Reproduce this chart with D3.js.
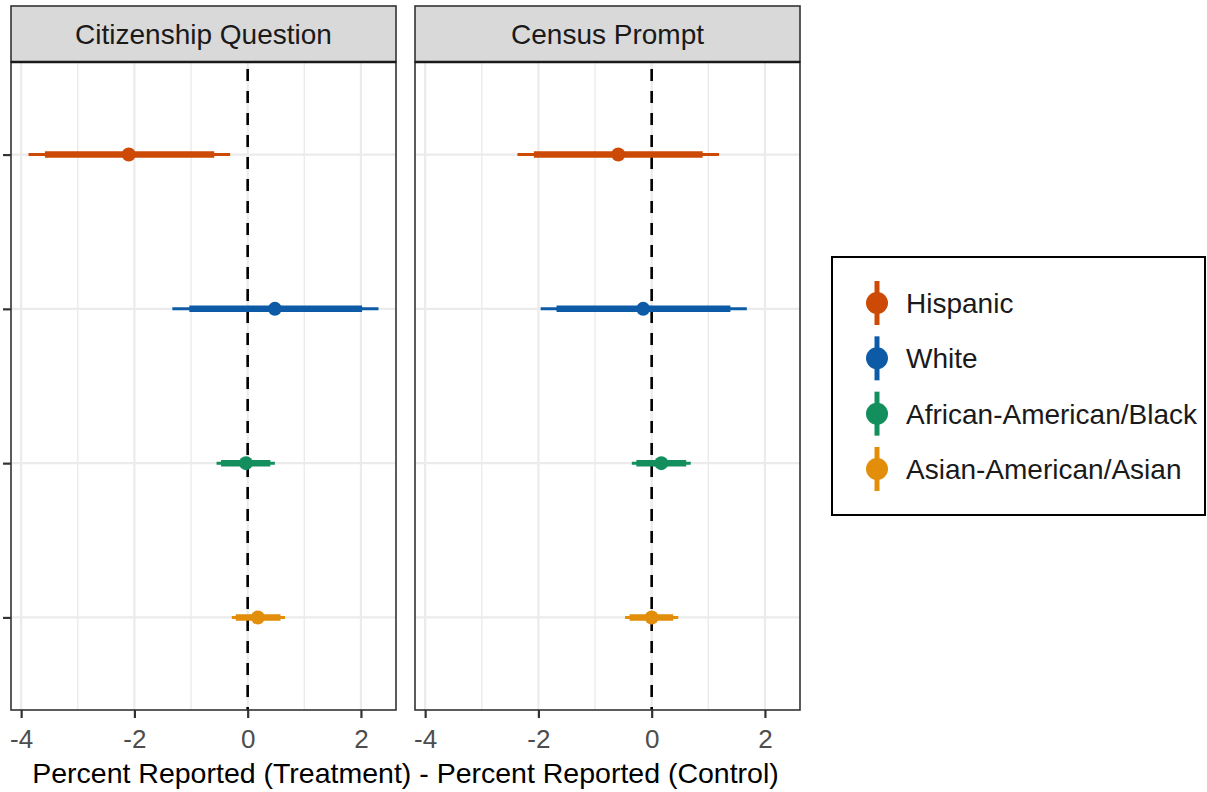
<!DOCTYPE html>
<html>
<head>
<meta charset="utf-8">
<script src="https://cdn.jsdelivr.net/npm/d3@7"></script>
<style>
  body { margin: 0; background: #fff; }
  text { font-family: "Liberation Sans", Arial, sans-serif; }
</style>
</head>
<body>
<svg id="chart" width="1207" height="792"></svg>
<script>
// categories
const groups = ["Hispanic", "White", "African-American/Black", "Asian-American/Asian"]
const panels = ["Citizenship Question", "Census Prompt"]
const colors = ["#CC4A06", "#0D5BA6", "#138F5E", "#E38E0A"]
const xTicks = [-4, -2, 0, 2]
const xGrid = [-4, -3, -2, -1, 0, 1, 2]

// Citizenship Question
const citEst    = [-2.10,  0.48, -0.03,  0.18]
const citLow95  = [-3.87, -1.33, -0.55, -0.28]
const citHigh95 = [-0.31,  2.31,  0.48,  0.66]
const citLow90  = [-3.58, -1.03, -0.47, -0.21]
const citHigh90 = [-0.59,  2.02,  0.40,  0.58]

// Census Prompt
const cenEst    = [-0.59, -0.15,  0.17,  0.00]
const cenLow95  = [-2.37, -1.96, -0.35, -0.47]
const cenHigh95 = [ 1.19,  1.68,  0.69,  0.47]
const cenLow90  = [-2.08, -1.68, -0.27, -0.39]
const cenHigh90 = [ 0.90,  1.39,  0.61,  0.38]

const panelData = [
  { name: panels[0], est: citEst, lo95: citLow95, hi95: citHigh95, lo90: citLow90, hi90: citHigh90 },
  { name: panels[1], est: cenEst, lo95: cenLow95, hi95: cenHigh95, lo90: cenLow90, hi90: cenHigh90 }
]

const svg = d3.select("#chart")

// layout
const panelX = [11, 415]
const panelW = 385
const stripTop = 6, panelTop = 62, panelBottom = 710

// shared x domain with 5% expansion like ggplot
const allVals = [...citLow95, ...citHigh95, ...cenLow95, ...cenHigh95]
const lo = d3.min(allVals), hi = d3.max(allVals)
const pad = (hi - lo) * 0.05

const y = d3.scalePoint()
    .domain(groups)
    .range([panelTop, panelBottom])
    .padding(0.6)

panelData.forEach((p, pi) => {
  const x = d3.scaleLinear()
      .domain([lo - pad, hi + pad])
      .range([panelX[pi], panelX[pi] + panelW])

  const g = svg.append("g")

  // background gridlines
  g.selectAll(".vgrid")
      .data(xGrid)
    .enter().append("line")
      .attr("x1", d => x(d)).attr("x2", d => x(d))
      .attr("y1", panelTop).attr("y2", panelBottom)
      .attr("stroke", "#EBEBEB")
      .attr("stroke-width", d => xTicks.includes(d) ? 2.2 : 1.4)
  g.selectAll(".hgrid")
      .data(groups)
    .enter().append("line")
      .attr("x1", panelX[pi]).attr("x2", panelX[pi] + panelW)
      .attr("y1", d => y(d)).attr("y2", d => y(d))
      .attr("stroke", "#EBEBEB")
      .attr("stroke-width", 2.2)

  // zero reference line
  g.append("line")
      .attr("x1", x(0)).attr("x2", x(0))
      .attr("y1", panelTop).attr("y2", panelBottom)
      .attr("stroke", "#000")
      .attr("stroke-width", 2.6)
      .attr("stroke-dasharray", "12,10")
      .attr("stroke-dashoffset", -7)

  // outer intervals
  g.selectAll(".outer")
      .data(groups)
    .enter().append("line")
      .attr("x1", (d, i) => x(p.lo95[i])).attr("x2", (d, i) => x(p.hi95[i]))
      .attr("y1", d => y(d)).attr("y2", d => y(d))
      .attr("stroke", (d, i) => colors[i])
      .attr("stroke-width", 3)
  // inner intervals
  g.selectAll(".inner")
      .data(groups)
    .enter().append("line")
      .attr("x1", (d, i) => x(p.lo90[i])).attr("x2", (d, i) => x(p.hi90[i]))
      .attr("y1", d => y(d)).attr("y2", d => y(d))
      .attr("stroke", (d, i) => colors[i])
      .attr("stroke-width", 6.5)
  // point estimates
  g.selectAll(".dot")
      .data(groups)
    .enter().append("circle")
      .attr("cx", (d, i) => x(p.est[i]))
      .attr("cy", d => y(d))
      .attr("r", 7)
      .attr("fill", (d, i) => colors[i])

  // panel border
  g.append("rect")
      .attr("x", panelX[pi]).attr("y", panelTop)
      .attr("width", panelW).attr("height", panelBottom - panelTop)
      .attr("fill", "none")
      .attr("stroke", "#333")
      .attr("stroke-width", 1.6)

  // strip
  g.append("rect")
      .attr("x", panelX[pi]).attr("y", stripTop)
      .attr("width", panelW).attr("height", panelTop - stripTop)
      .attr("fill", "#D9D9D9")
      .attr("stroke", "#333")
      .attr("stroke-width", 1.6)
  g.append("line")
      .attr("x1", panelX[pi]).attr("x2", panelX[pi] + panelW)
      .attr("y1", panelTop).attr("y2", panelTop)
      .attr("stroke", "#1A1A1A")
      .attr("stroke-width", 2.4)
  g.append("text")
      .attr("x", panelX[pi] + panelW / 2)
      .attr("y", 44)
      .attr("text-anchor", "middle")
      .attr("font-size", 28)
      .attr("fill", "#1A1A1A")
      .text(p.name)

  // x axis
  const ax = g.append("g")
      .attr("transform", `translate(0,${panelBottom})`)
      .call(d3.axisBottom(x).tickValues(xTicks).tickSize(8).tickPadding(6).tickFormat(d3.format("d")))
  ax.select(".domain").remove()
  ax.selectAll(".tick line").attr("stroke", "#333").attr("stroke-width", 2.2)
  ax.selectAll(".tick text")
      .attr("dy", null)
      .attr("y", 38)
      .attr("font-size", 26)
      .attr("fill", "#4D4D4D")
      .style("font-family", "'Liberation Sans', Arial, sans-serif")
      .text(d => d < 0 ? "-" + Math.abs(d) : d)
})

// y axis ticks (no labels)
const ay = svg.append("g")
    .attr("transform", `translate(${panelX[0]},0)`)
    .call(d3.axisLeft(y).tickSize(8).tickFormat(""))
ay.select(".domain").remove()
ay.selectAll(".tick line").attr("stroke", "#333").attr("stroke-width", 2.2)

// axis title
svg.append("text")
    .attr("x", (panelX[0] + panelX[1] + panelW) / 2)
    .attr("y", 783)
    .attr("text-anchor", "middle")
    .attr("font-size", 28.5)
    .attr("fill", "#000")
    .text("Percent Reported (Treatment) - Percent Reported (Control)")

// legend
const legend = svg.append("g")
legend.append("rect")
    .attr("x", 832).attr("y", 257)
    .attr("width", 373).attr("height", 258)
    .attr("fill", "#fff")
    .attr("stroke", "#000")
    .attr("stroke-width", 2)

const ly = d3.scalePoint().domain(groups).range([303, 469])
const item = legend.selectAll(".item")
    .data(groups)
  .enter().append("g")
    .attr("transform", d => `translate(877,${ly(d)})`)
item.append("line")
    .attr("y1", -22).attr("y2", 22)
    .attr("stroke", (d, i) => colors[i])
    .attr("stroke-width", 5)
item.append("circle")
    .attr("r", 11)
    .attr("fill", (d, i) => colors[i])
item.append("text")
    .attr("x", 29)
    .attr("y", 10)
    .attr("font-size", 28)
    .attr("fill", "#1A1A1A")
    .text(d => d)
</script>
</body>
</html>
